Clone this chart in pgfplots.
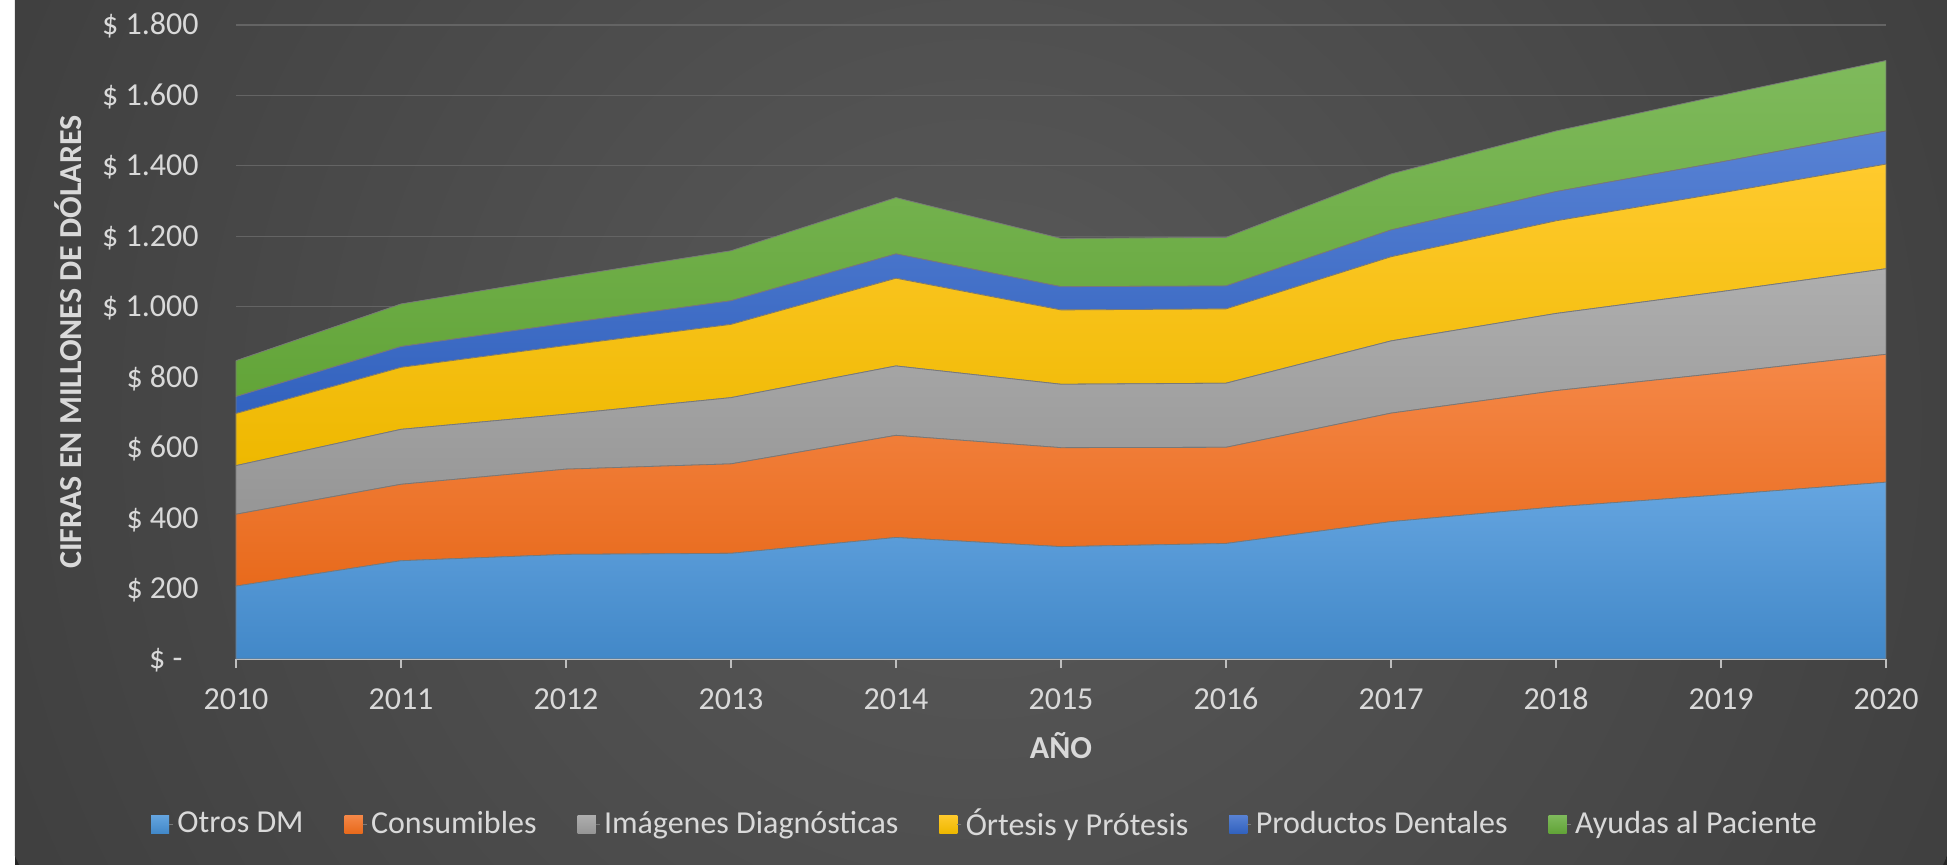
\documentclass[border=0pt]{standalone}
\usepackage{pgfplots}
\pgfplotsset{compat=1.18}
\usepackage{pgfplotstable}
\usepackage{fontspec}
\setmainfont{Carlito}
\definecolor{txt}{RGB}{217,217,217}
\definecolor{bgin}{RGB}{90,90,90}
\definecolor{bgout}{RGB}{37,37,37}
\definecolor{gridc}{RGB}{100,100,100}
\definecolor{axc}{RGB}{190,190,190}
\definecolor{edgec}{RGB}{120,120,120}
\definecolor{c1t}{RGB}{101,165,224}\definecolor{c1b}{RGB}{66,136,200}
\definecolor{c2t}{RGB}{245,136,72}\definecolor{c2b}{RGB}{232,106,28}
\definecolor{c3t}{RGB}{174,174,174}\definecolor{c3b}{RGB}{150,150,150}
\definecolor{c4t}{RGB}{255,202,45}\definecolor{c4b}{RGB}{238,184,0}
\definecolor{c5t}{RGB}{88,130,212}\definecolor{c5b}{RGB}{50,98,190}
\definecolor{c6t}{RGB}{127,186,92}\definecolor{c6b}{RGB}{98,164,56}
\pgfdeclareradialshading{bgshade}{\pgfpoint{0bp}{0bp}}{color(0bp)=(bgin); color(50bp)=(bgout)}
\newcommand\ff{\fontsize{16}{19}\selectfont}
\pgfplotstableread{
year otros cons img ort dent ay
2010 207 204 138 148 48 102
2011 279 217 156 176 59 121
2012 297 242 156 195 63 132
2013 300 254 188 208 67 142
2014 345 290 197 249 69 160
2015 319 281 180 211 66 137
2016 328 273 182 211 65 138
2017 390 308 205 239 76 159
2018 432 330 219 263 83 172
2019 466 346 231 280 88 189
2020 502 363 243 297 94 200
}\datatable
\begin{document}
\begin{tikzpicture}
\useasboundingbox (-118pt,-103pt) rectangle (855.5pt,329.5pt);
\fill[white] (-118pt,-103pt) rectangle (855.5pt,329.5pt);
\begin{scope}
\clip (-110.5pt,-103pt) rectangle (855.5pt,329.5pt);
\fill[bgout] (-110.5pt,-103pt) rectangle (855.5pt,329.5pt);
\shade[shading=bgshade] (372.5pt,120pt) circle (530pt);
\end{scope}
\begin{axis}[
  at={(0,0)}, anchor=south west,
  scale only axis, width=825pt, height=317pt,
  xmin=2010, xmax=2020, ymin=0, ymax=1800,
  stack plots=y,
  axis x line*=bottom, axis y line*=left,
  y axis line style={draw=none},
  x axis line style={draw=axc, line width=0.7pt, -},
  xtick={2010,2011,2012,2013,2014,2015,2016,2017,2018,2019,2020},
  xticklabels={2010,2011,2012,2013,2014,2015,2016,2017,2018,2019,2020},
  ytick={0,200,400,600,800,1000,1200,1400,1600,1800},
  yticklabels={\$ -\hphantom{0},\$ 200,\$ 400,\$ 600,\$ 800,\$ 1.000,\$ 1.200,\$ 1.400,\$ 1.600,\$ 1.800},
  ymajorgrids, grid style={draw=gridc, line width=0.6pt},
  major tick length=4.5pt, tick align=outside,
  x tick style={draw=axc, line width=0.7pt},
  y tick style={draw=none},
  xticklabel style={font=\ff, text=txt, anchor=base, inner sep=0pt, yshift=-21pt},
  yticklabel style={font=\ff, text=txt, anchor=base east, inner sep=0pt, xshift=-14pt, yshift=-5pt},
  xlabel={AÑO}, ylabel={CIFRAS EN MILLONES DE DÓLARES},
  every axis x label/.style={at={(axis description cs:0.5,-0.1577)}, anchor=base, font=\ff\bfseries, text=txt, inner sep=0pt},
  every axis y label/.style={at={(axis description cs:-0.0939,0.5)}, rotate=90, anchor=base, font=\ff\bfseries, text=txt, inner sep=0pt},
  legend columns=6,
  legend style={at={(axis description cs:0.4545,-0.2603)}, anchor=center, draw=none, fill=none, text=txt, font=\ff,
    nodes={inner sep=2pt},
    /tikz/every even column/.append style={column sep=18.5pt}},
  legend image code/.code={\path[#1,draw=none] (0pt,-4.5pt) rectangle (9pt,4.5pt); \path (9pt,0pt) -- (11pt,0pt);},
]
\addplot[draw=edgec, line width=0.4pt, fill=c1t, top color=c1t, bottom color=c1b] table[x=year,y=otros]{\datatable} \closedcycle;
\addlegendentry{Otros DM}
\addplot[draw=edgec, line width=0.4pt, fill=c2t, top color=c2t, bottom color=c2b] table[x=year,y=cons]{\datatable} \closedcycle;
\addlegendentry{Consumibles}
\addplot[draw=edgec, line width=0.4pt, fill=c3t, top color=c3t, bottom color=c3b] table[x=year,y=img]{\datatable} \closedcycle;
\addlegendentry{Imágenes Diagnósticas}
\addplot[draw=edgec, line width=0.4pt, fill=c4t, top color=c4t, bottom color=c4b] table[x=year,y=ort]{\datatable} \closedcycle;
\addlegendentry{Órtesis y Prótesis}
\addplot[draw=edgec, line width=0.4pt, fill=c5t, top color=c5t, bottom color=c5b] table[x=year,y=dent]{\datatable} \closedcycle;
\addlegendentry{Productos Dentales}
\addplot[draw=edgec, line width=0.4pt, fill=c6t, top color=c6t, bottom color=c6b] table[x=year,y=ay]{\datatable} \closedcycle;
\addlegendentry{Ayudas al Paciente}
\end{axis}
\end{tikzpicture}
\end{document}
